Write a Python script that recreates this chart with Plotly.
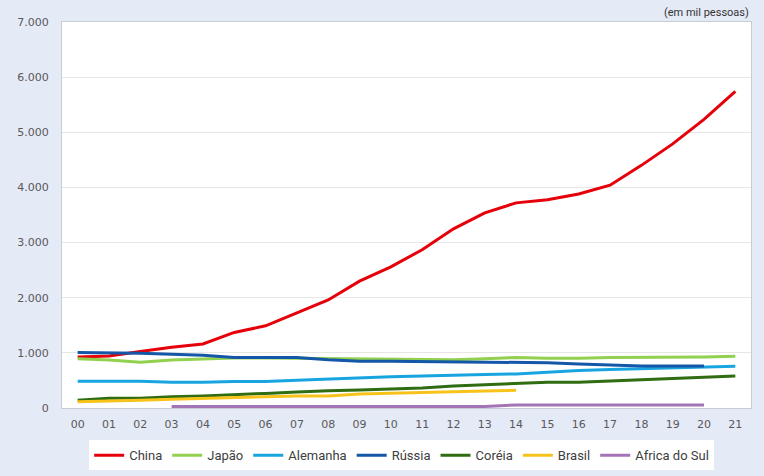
import plotly.graph_objects as go

years = ["00", "01", "02", "03", "04", "05", "06", "07", "08", "09", "10",
         "11", "12", "13", "14", "15", "16", "17", "18", "19", "20", "21"]

china = [925, 945, 1025, 1100, 1160, 1370, 1490, 1730, 1960, 2300, 2560,
         2870, 3250, 3540, 3720, 3775, 3880, 4040, 4400, 4790, 5235, 5740]
japao = [895, 870, 830, 870, 890, 905, 905, 900, 885, 885, 885,
         880, 873, 895, 915, 900, 900, 915, 915, 915, 927, 940]
alemanha = [485, 485, 485, 465, 465, 480, 480, 503, 527, 540, 565,
            582, 600, 606, 618, 655, 680, 700, 715, 733, 750, 757]
russia = [1006, 1006, 994, 975, 958, 915, 921, 915, 873, 850, 850,
          845, 830, 830, 830, 820, 800, 775, 760, 760, 760, None]
coreia = [140, 176, 176, 206, 218, 236, 265, 290, 315, 325, 342,
          364, 400, 418, 445, 465, 467, 490, 520, 540, 558, 582]
brasil = [115, 121, 139, 158, 176, 194, 206, 218, 218, 255, 267,
          285, 297, 309, 321, None, None, None, None, None, None, None]
africa = [None, None, None, 28, 28, 28, 28, 28, 28, 28, 28,
          28, 28, 28, 55, 55, 55, 55, 55, 55, 55, None]

series = [
    ("China", china, "#E5000A"),
    ("Japão", japao, "#92D050"),
    ("Alemanha", alemanha, "#18A5DF"),
    ("Rússia", russia, "#1457A8"),
    ("Coréia", coreia, "#2F6C12"),
    ("Brasil", brasil, "#F7C31B"),
    ("Africa do Sul", africa, "#A374B6"),
]

x = list(range(len(years)))

fig = go.Figure()
for name, vals, col in series:
    fig.add_trace(go.Scatter(
        x=x, y=vals, name=name, mode="lines",
        line=dict(color=col, width=3),
        connectgaps=False,
    ))

fig.update_layout(
    width=764, height=476,
    margin=dict(l=62, r=13, t=22, b=68, autoexpand=False),
    paper_bgcolor="#E5EAF7",
    plot_bgcolor="#FFFFFF",
    font=dict(family="DejaVu Sans", size=11, color="#595959"),
    showlegend=True,
    legend=dict(
        orientation="h", x=0.493, xanchor="center",
        yref="container", y=0.075, yanchor="top",
        bgcolor="#FFFFFF", font=dict(family="Roboto", size=13, color="#404040"),
        itemwidth=30, tracegroupgap=0, traceorder="normal",
    ),
    xaxis=dict(
        range=[-0.5, 21.5], tickmode="array", tickvals=x, ticktext=years,
        showgrid=False, zeroline=False, showline=True, linecolor="#C8CCD4",
        linewidth=1, mirror=True, ticks="", ticklabelstandoff=6, automargin=False,
        tickfont=dict(family="DejaVu Sans", size=11, color="#595959"),
    ),
    yaxis=dict(
        range=[0, 7000], tickvals=[0, 1000, 2000, 3000, 4000, 5000, 6000, 7000],
        ticktext=["0", "1.000", "2.000", "3.000", "4.000", "5.000", "6.000", "7.000"],
        showgrid=True, gridcolor="#E6E6E6", gridwidth=1, zeroline=False,
        showline=True, linecolor="#C8CCD4", linewidth=1, mirror=True,
        ticks="", ticklabelstandoff=10, automargin=False,
        tickfont=dict(family="DejaVu Sans", size=11, color="#595959"),
    ),
    annotations=[dict(
        text="(em mil pessoas)", xref="paper", yref="paper", x=1.0, y=1.0,
        xanchor="right", yanchor="bottom", showarrow=False, yshift=1,
        font=dict(family="Roboto", size=11, color="#333333"),
    )],
)

fig.write_html("out.html")
